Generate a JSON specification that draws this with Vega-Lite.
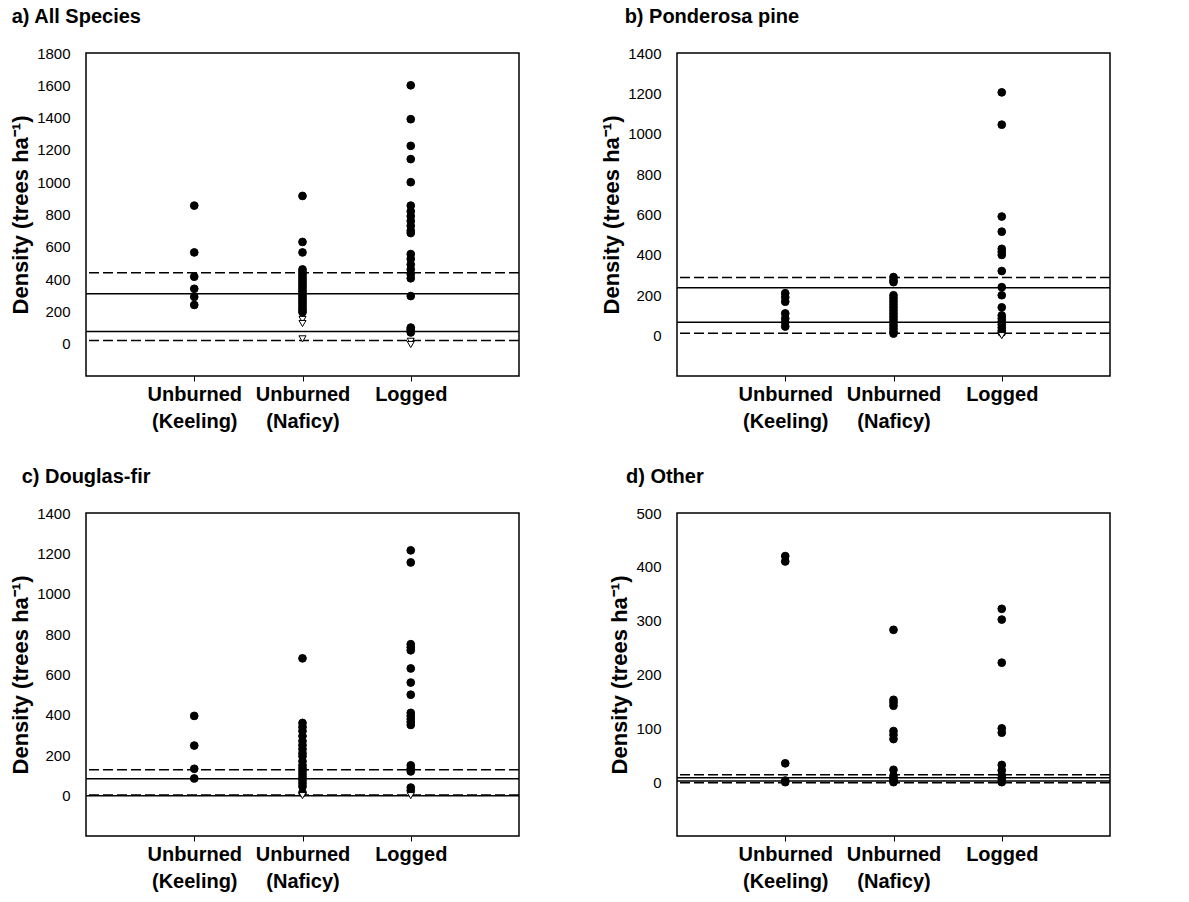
{
  "$schema": "https://vega.github.io/schema/vega-lite/v6.json",
  "background": "white",
  "padding": {"left": 8, "top": 6, "right": 5, "bottom": 5},
  "config": {
    "font": "Liberation Sans",
    "view": {"stroke": "black", "strokeWidth": 1.5},
    "axis": {"grid": false, "domain": false, "labelColor": "black", "titleColor": "black", "labelFont": "Liberation Sans", "titleFont": "Liberation Sans"},
    "title": {"anchor": "start", "fontSize": 20, "fontWeight": "bold", "color": "black", "font": "Liberation Sans", "frame": "bounds", "offset": 19}
  },
  "datasets": {
    "points": [
      {"panel": "a", "site": "Unburned (Keeling)", "density": 855, "marker": "filled"},
      {"panel": "a", "site": "Unburned (Keeling)", "density": 565, "marker": "filled"},
      {"panel": "a", "site": "Unburned (Keeling)", "density": 415, "marker": "filled"},
      {"panel": "a", "site": "Unburned (Keeling)", "density": 340, "marker": "filled"},
      {"panel": "a", "site": "Unburned (Keeling)", "density": 290, "marker": "filled"},
      {"panel": "a", "site": "Unburned (Keeling)", "density": 240, "marker": "filled"},
      {"panel": "a", "site": "Unburned (Naficy)", "density": 915, "marker": "filled"},
      {"panel": "a", "site": "Unburned (Naficy)", "density": 630, "marker": "filled"},
      {"panel": "a", "site": "Unburned (Naficy)", "density": 565, "marker": "filled"},
      {"panel": "a", "site": "Unburned (Naficy)", "density": 460, "marker": "filled"},
      {"panel": "a", "site": "Unburned (Naficy)", "density": 445, "marker": "filled"},
      {"panel": "a", "site": "Unburned (Naficy)", "density": 430, "marker": "filled"},
      {"panel": "a", "site": "Unburned (Naficy)", "density": 415, "marker": "filled"},
      {"panel": "a", "site": "Unburned (Naficy)", "density": 400, "marker": "filled"},
      {"panel": "a", "site": "Unburned (Naficy)", "density": 385, "marker": "filled"},
      {"panel": "a", "site": "Unburned (Naficy)", "density": 370, "marker": "filled"},
      {"panel": "a", "site": "Unburned (Naficy)", "density": 355, "marker": "filled"},
      {"panel": "a", "site": "Unburned (Naficy)", "density": 340, "marker": "filled"},
      {"panel": "a", "site": "Unburned (Naficy)", "density": 325, "marker": "filled"},
      {"panel": "a", "site": "Unburned (Naficy)", "density": 310, "marker": "filled"},
      {"panel": "a", "site": "Unburned (Naficy)", "density": 295, "marker": "filled"},
      {"panel": "a", "site": "Unburned (Naficy)", "density": 280, "marker": "filled"},
      {"panel": "a", "site": "Unburned (Naficy)", "density": 265, "marker": "filled"},
      {"panel": "a", "site": "Unburned (Naficy)", "density": 250, "marker": "filled"},
      {"panel": "a", "site": "Unburned (Naficy)", "density": 235, "marker": "filled"},
      {"panel": "a", "site": "Unburned (Naficy)", "density": 220, "marker": "filled"},
      {"panel": "a", "site": "Unburned (Naficy)", "density": 205, "marker": "filled"},
      {"panel": "a", "site": "Unburned (Naficy)", "density": 195, "marker": "filled"},
      {"panel": "a", "site": "Unburned (Naficy)", "density": 150, "marker": "open"},
      {"panel": "a", "site": "Unburned (Naficy)", "density": 125, "marker": "open"},
      {"panel": "a", "site": "Unburned (Naficy)", "density": 30, "marker": "open"},
      {"panel": "a", "site": "Logged", "density": 1600, "marker": "filled"},
      {"panel": "a", "site": "Logged", "density": 1390, "marker": "filled"},
      {"panel": "a", "site": "Logged", "density": 1225, "marker": "filled"},
      {"panel": "a", "site": "Logged", "density": 1143, "marker": "filled"},
      {"panel": "a", "site": "Logged", "density": 1000, "marker": "filled"},
      {"panel": "a", "site": "Logged", "density": 855, "marker": "filled"},
      {"panel": "a", "site": "Logged", "density": 820, "marker": "filled"},
      {"panel": "a", "site": "Logged", "density": 790, "marker": "filled"},
      {"panel": "a", "site": "Logged", "density": 760, "marker": "filled"},
      {"panel": "a", "site": "Logged", "density": 730, "marker": "filled"},
      {"panel": "a", "site": "Logged", "density": 700, "marker": "filled"},
      {"panel": "a", "site": "Logged", "density": 685, "marker": "filled"},
      {"panel": "a", "site": "Logged", "density": 555, "marker": "filled"},
      {"panel": "a", "site": "Logged", "density": 525, "marker": "filled"},
      {"panel": "a", "site": "Logged", "density": 490, "marker": "filled"},
      {"panel": "a", "site": "Logged", "density": 460, "marker": "filled"},
      {"panel": "a", "site": "Logged", "density": 430, "marker": "filled"},
      {"panel": "a", "site": "Logged", "density": 405, "marker": "filled"},
      {"panel": "a", "site": "Logged", "density": 295, "marker": "filled"},
      {"panel": "a", "site": "Logged", "density": 100, "marker": "filled"},
      {"panel": "a", "site": "Logged", "density": 90, "marker": "filled"},
      {"panel": "a", "site": "Logged", "density": 80, "marker": "filled"},
      {"panel": "a", "site": "Logged", "density": 70, "marker": "filled"},
      {"panel": "a", "site": "Logged", "density": 15, "marker": "open"},
      {"panel": "a", "site": "Logged", "density": -5, "marker": "open"},

      {"panel": "b", "site": "Unburned (Keeling)", "density": 210, "marker": "filled"},
      {"panel": "b", "site": "Unburned (Keeling)", "density": 190, "marker": "filled"},
      {"panel": "b", "site": "Unburned (Keeling)", "density": 168, "marker": "filled"},
      {"panel": "b", "site": "Unburned (Keeling)", "density": 110, "marker": "filled"},
      {"panel": "b", "site": "Unburned (Keeling)", "density": 85, "marker": "filled"},
      {"panel": "b", "site": "Unburned (Keeling)", "density": 66, "marker": "filled"},
      {"panel": "b", "site": "Unburned (Keeling)", "density": 45, "marker": "filled"},
      {"panel": "b", "site": "Unburned (Naficy)", "density": 290, "marker": "filled"},
      {"panel": "b", "site": "Unburned (Naficy)", "density": 275, "marker": "filled"},
      {"panel": "b", "site": "Unburned (Naficy)", "density": 265, "marker": "filled"},
      {"panel": "b", "site": "Unburned (Naficy)", "density": 200, "marker": "filled"},
      {"panel": "b", "site": "Unburned (Naficy)", "density": 185, "marker": "filled"},
      {"panel": "b", "site": "Unburned (Naficy)", "density": 170, "marker": "filled"},
      {"panel": "b", "site": "Unburned (Naficy)", "density": 155, "marker": "filled"},
      {"panel": "b", "site": "Unburned (Naficy)", "density": 140, "marker": "filled"},
      {"panel": "b", "site": "Unburned (Naficy)", "density": 125, "marker": "filled"},
      {"panel": "b", "site": "Unburned (Naficy)", "density": 110, "marker": "filled"},
      {"panel": "b", "site": "Unburned (Naficy)", "density": 95, "marker": "filled"},
      {"panel": "b", "site": "Unburned (Naficy)", "density": 80, "marker": "filled"},
      {"panel": "b", "site": "Unburned (Naficy)", "density": 65, "marker": "filled"},
      {"panel": "b", "site": "Unburned (Naficy)", "density": 50, "marker": "filled"},
      {"panel": "b", "site": "Unburned (Naficy)", "density": 35, "marker": "filled"},
      {"panel": "b", "site": "Unburned (Naficy)", "density": 20, "marker": "filled"},
      {"panel": "b", "site": "Unburned (Naficy)", "density": 10, "marker": "filled"},
      {"panel": "b", "site": "Logged", "density": 1205, "marker": "filled"},
      {"panel": "b", "site": "Logged", "density": 1045, "marker": "filled"},
      {"panel": "b", "site": "Logged", "density": 590, "marker": "filled"},
      {"panel": "b", "site": "Logged", "density": 515, "marker": "filled"},
      {"panel": "b", "site": "Logged", "density": 430, "marker": "filled"},
      {"panel": "b", "site": "Logged", "density": 415, "marker": "filled"},
      {"panel": "b", "site": "Logged", "density": 400, "marker": "filled"},
      {"panel": "b", "site": "Logged", "density": 320, "marker": "filled"},
      {"panel": "b", "site": "Logged", "density": 240, "marker": "filled"},
      {"panel": "b", "site": "Logged", "density": 200, "marker": "filled"},
      {"panel": "b", "site": "Logged", "density": 140, "marker": "filled"},
      {"panel": "b", "site": "Logged", "density": 100, "marker": "filled"},
      {"panel": "b", "site": "Logged", "density": 85, "marker": "filled"},
      {"panel": "b", "site": "Logged", "density": 70, "marker": "filled"},
      {"panel": "b", "site": "Logged", "density": 55, "marker": "filled"},
      {"panel": "b", "site": "Logged", "density": 40, "marker": "filled"},
      {"panel": "b", "site": "Logged", "density": 25, "marker": "filled"},
      {"panel": "b", "site": "Logged", "density": 15, "marker": "filled"},
      {"panel": "b", "site": "Logged", "density": 0, "marker": "open"},

      {"panel": "c", "site": "Unburned (Keeling)", "density": 395, "marker": "filled"},
      {"panel": "c", "site": "Unburned (Keeling)", "density": 248, "marker": "filled"},
      {"panel": "c", "site": "Unburned (Keeling)", "density": 133, "marker": "filled"},
      {"panel": "c", "site": "Unburned (Keeling)", "density": 85, "marker": "filled"},
      {"panel": "c", "site": "Unburned (Naficy)", "density": 680, "marker": "filled"},
      {"panel": "c", "site": "Unburned (Naficy)", "density": 360, "marker": "filled"},
      {"panel": "c", "site": "Unburned (Naficy)", "density": 340, "marker": "filled"},
      {"panel": "c", "site": "Unburned (Naficy)", "density": 320, "marker": "filled"},
      {"panel": "c", "site": "Unburned (Naficy)", "density": 295, "marker": "filled"},
      {"panel": "c", "site": "Unburned (Naficy)", "density": 270, "marker": "filled"},
      {"panel": "c", "site": "Unburned (Naficy)", "density": 250, "marker": "filled"},
      {"panel": "c", "site": "Unburned (Naficy)", "density": 230, "marker": "filled"},
      {"panel": "c", "site": "Unburned (Naficy)", "density": 210, "marker": "filled"},
      {"panel": "c", "site": "Unburned (Naficy)", "density": 195, "marker": "filled"},
      {"panel": "c", "site": "Unburned (Naficy)", "density": 170, "marker": "filled"},
      {"panel": "c", "site": "Unburned (Naficy)", "density": 150, "marker": "filled"},
      {"panel": "c", "site": "Unburned (Naficy)", "density": 135, "marker": "filled"},
      {"panel": "c", "site": "Unburned (Naficy)", "density": 120, "marker": "filled"},
      {"panel": "c", "site": "Unburned (Naficy)", "density": 105, "marker": "filled"},
      {"panel": "c", "site": "Unburned (Naficy)", "density": 90, "marker": "filled"},
      {"panel": "c", "site": "Unburned (Naficy)", "density": 75, "marker": "filled"},
      {"panel": "c", "site": "Unburned (Naficy)", "density": 60, "marker": "filled"},
      {"panel": "c", "site": "Unburned (Naficy)", "density": 45, "marker": "filled"},
      {"panel": "c", "site": "Unburned (Naficy)", "density": 15, "marker": "filled"},
      {"panel": "c", "site": "Unburned (Naficy)", "density": 0, "marker": "open"},
      {"panel": "c", "site": "Logged", "density": 1215, "marker": "filled"},
      {"panel": "c", "site": "Logged", "density": 1155, "marker": "filled"},
      {"panel": "c", "site": "Logged", "density": 750, "marker": "filled"},
      {"panel": "c", "site": "Logged", "density": 735, "marker": "filled"},
      {"panel": "c", "site": "Logged", "density": 720, "marker": "filled"},
      {"panel": "c", "site": "Logged", "density": 630, "marker": "filled"},
      {"panel": "c", "site": "Logged", "density": 560, "marker": "filled"},
      {"panel": "c", "site": "Logged", "density": 500, "marker": "filled"},
      {"panel": "c", "site": "Logged", "density": 410, "marker": "filled"},
      {"panel": "c", "site": "Logged", "density": 395, "marker": "filled"},
      {"panel": "c", "site": "Logged", "density": 380, "marker": "filled"},
      {"panel": "c", "site": "Logged", "density": 365, "marker": "filled"},
      {"panel": "c", "site": "Logged", "density": 350, "marker": "filled"},
      {"panel": "c", "site": "Logged", "density": 150, "marker": "filled"},
      {"panel": "c", "site": "Logged", "density": 135, "marker": "filled"},
      {"panel": "c", "site": "Logged", "density": 120, "marker": "filled"},
      {"panel": "c", "site": "Logged", "density": 40, "marker": "filled"},
      {"panel": "c", "site": "Logged", "density": 25, "marker": "filled"},
      {"panel": "c", "site": "Logged", "density": 0, "marker": "open"},

      {"panel": "d", "site": "Unburned (Keeling)", "density": 420, "marker": "filled"},
      {"panel": "d", "site": "Unburned (Keeling)", "density": 410, "marker": "filled"},
      {"panel": "d", "site": "Unburned (Keeling)", "density": 35, "marker": "filled"},
      {"panel": "d", "site": "Unburned (Keeling)", "density": 3, "marker": "filled"},
      {"panel": "d", "site": "Unburned (Keeling)", "density": 0, "marker": "filled"},
      {"panel": "d", "site": "Unburned (Naficy)", "density": 283, "marker": "filled"},
      {"panel": "d", "site": "Unburned (Naficy)", "density": 153, "marker": "filled"},
      {"panel": "d", "site": "Unburned (Naficy)", "density": 148, "marker": "filled"},
      {"panel": "d", "site": "Unburned (Naficy)", "density": 142, "marker": "filled"},
      {"panel": "d", "site": "Unburned (Naficy)", "density": 95, "marker": "filled"},
      {"panel": "d", "site": "Unburned (Naficy)", "density": 88, "marker": "filled"},
      {"panel": "d", "site": "Unburned (Naficy)", "density": 80, "marker": "filled"},
      {"panel": "d", "site": "Unburned (Naficy)", "density": 23, "marker": "filled"},
      {"panel": "d", "site": "Unburned (Naficy)", "density": 12, "marker": "filled"},
      {"panel": "d", "site": "Unburned (Naficy)", "density": 6, "marker": "filled"},
      {"panel": "d", "site": "Unburned (Naficy)", "density": 2, "marker": "filled"},
      {"panel": "d", "site": "Unburned (Naficy)", "density": 0, "marker": "filled"},
      {"panel": "d", "site": "Logged", "density": 322, "marker": "filled"},
      {"panel": "d", "site": "Logged", "density": 302, "marker": "filled"},
      {"panel": "d", "site": "Logged", "density": 222, "marker": "filled"},
      {"panel": "d", "site": "Logged", "density": 100, "marker": "filled"},
      {"panel": "d", "site": "Logged", "density": 92, "marker": "filled"},
      {"panel": "d", "site": "Logged", "density": 32, "marker": "filled"},
      {"panel": "d", "site": "Logged", "density": 22, "marker": "filled"},
      {"panel": "d", "site": "Logged", "density": 13, "marker": "filled"},
      {"panel": "d", "site": "Logged", "density": 6, "marker": "filled"},
      {"panel": "d", "site": "Logged", "density": 0, "marker": "filled"}
    ],
    "bounds": [
      {"panel": "a", "kind": "dashed", "density": 440},
      {"panel": "a", "kind": "dashed", "density": 20},
      {"panel": "a", "kind": "solid", "density": 310},
      {"panel": "a", "kind": "solid", "density": 75},
      {"panel": "b", "kind": "dashed", "density": 288},
      {"panel": "b", "kind": "dashed", "density": 12},
      {"panel": "b", "kind": "solid", "density": 237},
      {"panel": "b", "kind": "solid", "density": 66},
      {"panel": "c", "kind": "dashed", "density": 128},
      {"panel": "c", "kind": "dashed", "density": 3},
      {"panel": "c", "kind": "solid", "density": 84},
      {"panel": "c", "kind": "solid", "density": 0},
      {"panel": "d", "kind": "dashed", "density": 14},
      {"panel": "d", "kind": "dashed", "density": -1},
      {"panel": "d", "kind": "solid", "density": 8},
      {"panel": "d", "kind": "solid", "density": 2}
    ]
  },
  "columns": 2,
  "spacing": {"row": 34, "column": 78},
  "concat": [
    {
      "title": {"text": "a) All Species", "dx": 2},
      "width": 433, "height": 323,
      "encoding": {
        "y": {"field": "density", "type": "quantitative", "scale": {"domain": [-200, 1800], "nice": false, "zero": false},
          "axis": {"title": "Density (trees ha⁻¹)", "titleFontSize": 22, "titleFontWeight": "bold", "titlePadding": 4, "values": [0, 200, 400, 600, 800, 1000, 1200, 1400, 1600, 1800], "format": "d", "labelFontSize": 15, "ticks": false, "labelPadding": 16}}
      },
      "layer": [
        {"data": {"name": "bounds"}, "transform": [{"filter": "datum.panel == 'a'"}],
          "mark": {"type": "rule", "color": "black", "strokeWidth": 1.5},
          "encoding": {"strokeDash": {"field": "kind", "type": "nominal", "scale": {"domain": ["dashed", "solid"], "range": [[10, 4], [1, 0]]}, "legend": null}}},
        {"data": {"name": "points"}, "transform": [{"filter": "datum.panel == 'a'"}],
          "mark": {"type": "point", "filled": true, "stroke": "black", "strokeWidth": 1, "opacity": 1},
          "encoding": {
            "x": {"field": "site", "type": "nominal", "scale": {"type": "point", "padding": 1, "domain": ["Unburned (Keeling)", "Unburned (Naficy)", "Logged"]},
              "axis": {"title": null, "labelAngle": 0, "labelExpr": "split(datum.label, ' ')", "labelFontSize": 20, "labelFontWeight": "bold", "labelLineHeight": 27, "ticks": true, "tickSize": 5, "tickColor": "black", "labelPadding": 3}},
            "shape": {"field": "marker", "type": "nominal", "scale": {"domain": ["filled", "open"], "range": ["circle", "triangle-down"]}, "legend": null},
            "fill": {"field": "marker", "type": "nominal", "scale": {"domain": ["filled", "open"], "range": ["black", "white"]}, "legend": null},
            "size": {"field": "marker", "type": "nominal", "scale": {"domain": ["filled", "open"], "range": [60, 50]}, "legend": null}
          }}
      ]
    },
    {
      "title": {"text": "b) Ponderosa pine", "dx": 24},
      "width": 433, "height": 323,
      "encoding": {
        "y": {"field": "density", "type": "quantitative", "scale": {"domain": [-200, 1400], "nice": false, "zero": false},
          "axis": {"title": "Density (trees ha⁻¹)", "titleFontSize": 22, "titleFontWeight": "bold", "titlePadding": 4, "values": [0, 200, 400, 600, 800, 1000, 1200, 1400], "format": "d", "labelFontSize": 15, "ticks": false, "labelPadding": 16}}
      },
      "layer": [
        {"data": {"name": "bounds"}, "transform": [{"filter": "datum.panel == 'b'"}],
          "mark": {"type": "rule", "color": "black", "strokeWidth": 1.5},
          "encoding": {"strokeDash": {"field": "kind", "type": "nominal", "scale": {"domain": ["dashed", "solid"], "range": [[10, 4], [1, 0]]}, "legend": null}}},
        {"data": {"name": "points"}, "transform": [{"filter": "datum.panel == 'b'"}],
          "mark": {"type": "point", "filled": true, "stroke": "black", "strokeWidth": 1, "opacity": 1},
          "encoding": {
            "x": {"field": "site", "type": "nominal", "scale": {"type": "point", "padding": 1, "domain": ["Unburned (Keeling)", "Unburned (Naficy)", "Logged"]},
              "axis": {"title": null, "labelAngle": 0, "labelExpr": "split(datum.label, ' ')", "labelFontSize": 20, "labelFontWeight": "bold", "labelLineHeight": 27, "ticks": true, "tickSize": 5, "tickColor": "black", "labelPadding": 3}},
            "shape": {"field": "marker", "type": "nominal", "scale": {"domain": ["filled", "open"], "range": ["circle", "triangle-down"]}, "legend": null},
            "fill": {"field": "marker", "type": "nominal", "scale": {"domain": ["filled", "open"], "range": ["black", "white"]}, "legend": null},
            "size": {"field": "marker", "type": "nominal", "scale": {"domain": ["filled", "open"], "range": [60, 50]}, "legend": null}
          }}
      ]
    },
    {
      "title": {"text": "c) Douglas-fir", "dx": 12},
      "width": 433, "height": 323,
      "encoding": {
        "y": {"field": "density", "type": "quantitative", "scale": {"domain": [-200, 1400], "nice": false, "zero": false},
          "axis": {"title": "Density (trees ha⁻¹)", "titleFontSize": 22, "titleFontWeight": "bold", "titlePadding": 4, "values": [0, 200, 400, 600, 800, 1000, 1200, 1400], "format": "d", "labelFontSize": 15, "ticks": false, "labelPadding": 16}}
      },
      "layer": [
        {"data": {"name": "bounds"}, "transform": [{"filter": "datum.panel == 'c'"}],
          "mark": {"type": "rule", "color": "black", "strokeWidth": 1.5},
          "encoding": {"strokeDash": {"field": "kind", "type": "nominal", "scale": {"domain": ["dashed", "solid"], "range": [[10, 4], [1, 0]]}, "legend": null}}},
        {"data": {"name": "points"}, "transform": [{"filter": "datum.panel == 'c'"}],
          "mark": {"type": "point", "filled": true, "stroke": "black", "strokeWidth": 1, "opacity": 1},
          "encoding": {
            "x": {"field": "site", "type": "nominal", "scale": {"type": "point", "padding": 1, "domain": ["Unburned (Keeling)", "Unburned (Naficy)", "Logged"]},
              "axis": {"title": null, "labelAngle": 0, "labelExpr": "split(datum.label, ' ')", "labelFontSize": 20, "labelFontWeight": "bold", "labelLineHeight": 27, "ticks": true, "tickSize": 5, "tickColor": "black", "labelPadding": 3}},
            "shape": {"field": "marker", "type": "nominal", "scale": {"domain": ["filled", "open"], "range": ["circle", "triangle-down"]}, "legend": null},
            "fill": {"field": "marker", "type": "nominal", "scale": {"domain": ["filled", "open"], "range": ["black", "white"]}, "legend": null},
            "size": {"field": "marker", "type": "nominal", "scale": {"domain": ["filled", "open"], "range": [60, 50]}, "legend": null}
          }}
      ]
    },
    {
      "title": {"text": "d) Other", "dx": 17},
      "width": 433, "height": 323,
      "encoding": {
        "y": {"field": "density", "type": "quantitative", "scale": {"domain": [-100, 500], "nice": false, "zero": false},
          "axis": {"title": "Density (trees ha⁻¹)", "titleFontSize": 22, "titleFontWeight": "bold", "titlePadding": 4, "values": [0, 100, 200, 300, 400, 500], "format": "d", "labelFontSize": 15, "ticks": false, "labelPadding": 16}}
      },
      "layer": [
        {"data": {"name": "bounds"}, "transform": [{"filter": "datum.panel == 'd'"}],
          "mark": {"type": "rule", "color": "black", "strokeWidth": 1.5},
          "encoding": {"strokeDash": {"field": "kind", "type": "nominal", "scale": {"domain": ["dashed", "solid"], "range": [[10, 4], [1, 0]]}, "legend": null}}},
        {"data": {"name": "points"}, "transform": [{"filter": "datum.panel == 'd'"}],
          "mark": {"type": "point", "filled": true, "stroke": "black", "strokeWidth": 1, "opacity": 1},
          "encoding": {
            "x": {"field": "site", "type": "nominal", "scale": {"type": "point", "padding": 1, "domain": ["Unburned (Keeling)", "Unburned (Naficy)", "Logged"]},
              "axis": {"title": null, "labelAngle": 0, "labelExpr": "split(datum.label, ' ')", "labelFontSize": 20, "labelFontWeight": "bold", "labelLineHeight": 27, "ticks": true, "tickSize": 5, "tickColor": "black", "labelPadding": 3}},
            "shape": {"field": "marker", "type": "nominal", "scale": {"domain": ["filled", "open"], "range": ["circle", "triangle-down"]}, "legend": null},
            "fill": {"field": "marker", "type": "nominal", "scale": {"domain": ["filled", "open"], "range": ["black", "white"]}, "legend": null},
            "size": {"field": "marker", "type": "nominal", "scale": {"domain": ["filled", "open"], "range": [60, 50]}, "legend": null}
          }}
      ]
    }
  ]
}
